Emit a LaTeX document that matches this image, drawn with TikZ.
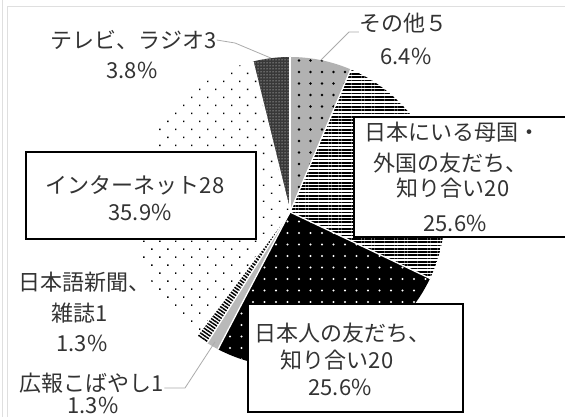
\documentclass[tikz,border=0pt]{standalone}
\usepackage{fontspec}
\newfontfamily\jpfont{Noto Sans CJK JP}
\usetikzlibrary{patterns.meta}
\newcommand\pieslice[3]{\fill[#3] (c) -- ++(#1:\R) arc[start angle=#1,end angle=#2,radius=\R] -- cycle;}
\begin{document}
\begin{tikzpicture}[x=1pt,y=1pt,
  lbl/.style={font=\jpfont\fontsize{22}{22}\selectfont, text=black!80, inner sep=0pt},
  box/.style={draw=black, line width=1.8pt, fill=white, inner sep=0pt},
  lead/.style={draw=gray!65, line width=0.8pt},
  sep/.style={draw=white, line width=1.3pt}]
\useasboundingbox (0,0) rectangle (565,417);
\fill[white] (0,0) rectangle (565,417);
\draw[gray!25, line width=1pt] (2.5,0) -- (2.5,417);
\draw[gray!25, line width=1pt] (7,0) -- (7,410) -- (565,410);
\coordinate (c) at (290,205);
\def\R{155}
% その他
\pieslice{90}{66.92}{gray!60}
\pieslice{90}{66.92}{pattern={Dots[distance=11.5pt,radius=1.3pt]},pattern color=black}
% 日本にいる母国・外国の友だち
\pieslice{66.92}{-25.38}{white}
\pieslice{66.92}{-25.38}{pattern={Lines[distance=3.3pt,line width=1.7pt]},pattern color=black}
% 日本人の友だち
\pieslice{-25.38}{-117.69}{black}
\pieslice{-25.38}{-117.69}{pattern={Dots[distance=11.5pt,radius=1.2pt]},pattern color=white}
% 広報こばやし
\pieslice{-117.69}{-122.31}{gray!55}
% 日本語新聞、雑誌
\pieslice{-122.31}{-126.92}{white}
\pieslice{-122.31}{-126.92}{pattern={Lines[distance=3pt,line width=1.5pt,angle=-34.6]},pattern color=black}
% インターネット
\pieslice{-126.92}{-256.15}{white}
\pieslice{-126.92}{-256.15}{pattern={Dots[distance=11.3pt,angle=45,radius=1pt]},pattern color=black}
% テレビ、ラジオ
\pieslice{-256.15}{-270}{black!78}
\pieslice{-256.15}{-270}{pattern={Dots[distance=3pt,radius=0.5pt]},pattern color=white}
% separators
\foreach \a in {90,66.92,-25.38,-117.69,-122.31,-126.92,-256.15}
  \draw[sep] (c) -- ++(\a:\R);
% boxes
\node[box, minimum width=230pt, minimum height=87pt, anchor=south west] (netbox) at (25,177) {};
\fill[white] (354,180) rectangle (566,300);
\draw[line width=1.8pt] (567,300) -- (354,300) -- (354,180) -- (567,180);
\node[box, minimum width=215pt, minimum height=108pt, anchor=south west] (jpbox) at (247,4) {};
% labels
\node[lbl] (tv1) at (133.5,377) {テレビ、ラジオ3};
\node[lbl] (tv2) at (132,347) {3.8\%};
\node[lbl] (so1) at (403,394) {その他５};
\node[lbl] (so2) at (406,361) {6.4\%};
\node[lbl] (net1) at (135,232) {インターネット28};
\node[lbl] (net2) at (140,205) {35.9\%};
\node[lbl] (fr1) at (452,285) {日本にいる母国・};
\node[lbl] (fr2) at (450,254) {外国の友だち、};
\node[lbl] (fr3) at (453,229) {知り合い20};
\node[lbl] (fr4) at (455,194) {25.6\%};
\node[lbl] (jp1) at (342,84) {日本人の友だち、};
\node[lbl] (jp2) at (337,57) {知り合い20};
\node[lbl] (jp3) at (340,30) {25.6\%};
\node[lbl] (np1) at (84,135) {日本語新聞、};
\node[lbl] (np2) at (80,104) {雑誌1};
\node[lbl] (np3) at (82,74) {1.3\%};
\node[lbl] (ko1) at (92,34) {広報こばやし1};
\node[lbl] (ko2) at (93,12) {1.3\%};
% leaders
\path (c) ++(-263:\R) coordinate (tvp);
\draw[lead] (tvp) -- (235,374) -- (tv1.east);
\path (c) ++(78.5:\R) coordinate (sop);
\draw[lead] (sop) -- (349,385) -- ([yshift=-9pt]so1.west);
\path (c) ++(-120:150) coordinate (kop);
\draw[lead] (kop) -- (185,29) -- ([yshift=-5pt]ko1.east);
\end{tikzpicture}
\end{document}
